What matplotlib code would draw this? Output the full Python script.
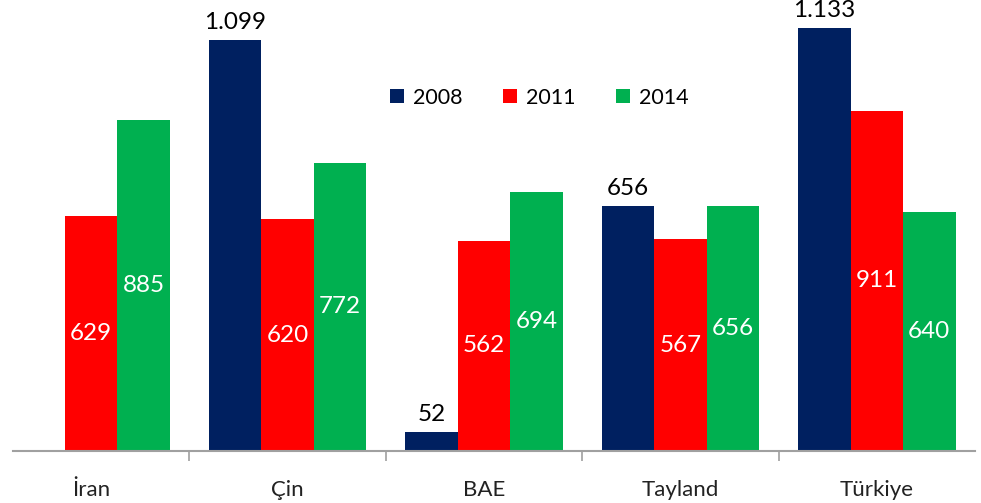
import numpy as np
import matplotlib
matplotlib.use("Agg")
import matplotlib.pyplot as plt
from matplotlib.ticker import FixedLocator

# data
countries = ["İran", "Çin", "BAE", "Tayland", "Türkiye"]
years = ["2008", "2011", "2014"]
v2008 = [np.nan, 1099, 52, 656, 1133]
v2011 = [629, 620, 562, 567, 911]
v2014 = [885, 772, 694, 656, 640]

colours = ["#002060", "#FF0000", "#00B050"]

plt.rcParams["font.family"] = ["Lato", "DejaVu Sans"]


def fmt(v):
    return f"{v:,.0f}".replace(",", ".")


fig = plt.figure(figsize=(9.81, 5.03), dpi=100)
ax = fig.add_axes([0.0, 0.1034, 0.994, 0.8966])

x = np.arange(len(countries))
w = 0.267
series = [v2008, v2011, v2014]

for i, (vals, c, yr) in enumerate(zip(series, colours, years)):
    pos = x + (i - 1) * w
    ax.bar(pos, np.nan_to_num(vals), width=w, color=c, label=yr)
    for p, v in zip(pos, vals):
        if np.isnan(v):
            continue
        if i == 0:
            # 2008 values sit above the bars
            ax.annotate(fmt(v), (p, v), xytext=(0, 5), textcoords="offset points",
                        ha="center", va="bottom", fontsize=17.5, color="black")
        else:
            ax.text(p, v / 2, fmt(v), ha="center", va="center",
                    fontsize=17.5, color="white")

ax.set_xlim(-0.464, 4.5)
ax.set_ylim(0, 1207)

for s in ["top", "right", "left"]:
    ax.spines[s].set_visible(False)
ax.spines["bottom"].set_color("#A0A0A0")
ax.spines["bottom"].set_linewidth(1.5)
ax.spines["bottom"].set_bounds(-0.4, 4.5)
ax.set_yticks([])

ax.set_xticks(x)
ax.set_xticklabels(countries, fontsize=16, color="#222222")
ax.tick_params(axis="x", which="major", length=0, pad=21)
ax.xaxis.set_minor_locator(FixedLocator([0.5, 1.5, 2.5, 3.5]))
ax.tick_params(axis="x", which="minor", length=7, width=1.2, color="#A0A0A0")

ax.legend(loc="center", bbox_to_anchor=(0.553, 0.783), ncol=3, frameon=False,
          fontsize=15.5, handlelength=0.65, handleheight=0.65, handletextpad=0.45,
          columnspacing=1.85)

fig.savefig("out.png", dpi=100)
